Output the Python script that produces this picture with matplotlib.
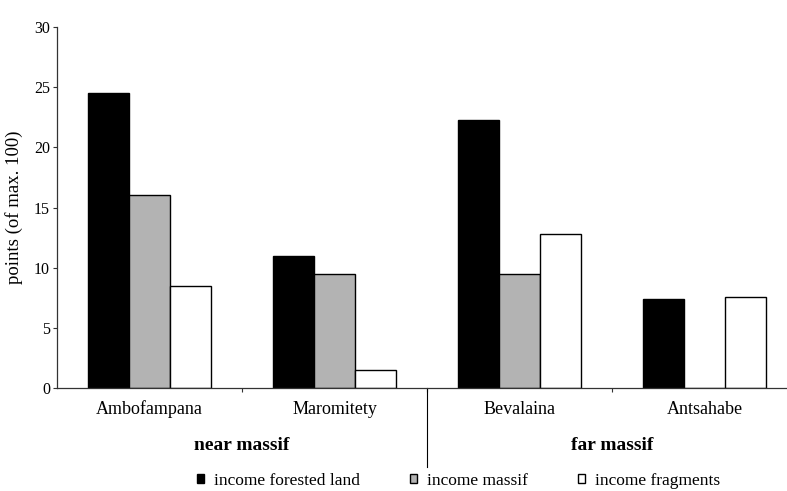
import numpy as np
import matplotlib
matplotlib.use("Agg")
import matplotlib.pyplot as plt
import matplotlib.transforms as mtransforms

plt.rcParams["font.family"] = ["Liberation Serif", "DejaVu Serif"]

# data
villages = ["Ambofampana", "Maromitety", "Bevalaina", "Antsahabe"]
groups = ["near massif", "far massif"]
series = ["income forested land", "income massif", "income fragments"]
forested = [24.5, 11.0, 22.3, 7.4]
massif = [16.0, 9.5, 9.5, 0.0]
fragments = [8.5, 1.5, 12.8, 7.6]
yticks = [0, 5, 10, 15, 20, 25, 30]

W, H = 787, 491
fig = plt.figure(figsize=(W / 100, H / 100), dpi=100)
ax = fig.add_axes([57 / W, 103 / H, 740 / W, 361 / H])

x = np.arange(len(villages))
bw = 0.223
colors = ["#000000", "#b3b3b3", "#ffffff"]
bars = []
for i, (vals, col, lab) in enumerate(zip([forested, massif, fragments], colors, series)):
    b = ax.bar(x + (i - 1) * bw, vals, bw, color=col, edgecolor="black", linewidth=1.0,
               label=lab, zorder=2)
    bars.append(b)

ax.set_xlim(-0.5, 3.5)
ax.set_ylim(0, 30)
ax.set_yticks(yticks)
ax.tick_params(axis="y", direction="out", length=3, width=0.8, pad=2, labelsize=11.5, colors="#333333",
               labelcolor="black")
ax.set_xticks([0.5, 1.5, 2.5])
ax.set_xticklabels([])
ax.tick_params(axis="x", direction="out", length=3, width=0.8, colors="#333333")
ax.set_xticks(x, minor=True)
ax.set_xticklabels(villages, minor=True, fontsize=13)
ax.tick_params(axis="x", which="minor", length=0, pad=9)
for s in ["top", "right"]:
    ax.spines[s].set_visible(False)
for s in ["left", "bottom"]:
    ax.spines[s].set_color("#333333")
    ax.spines[s].set_linewidth(0.9)
    ax.spines[s].set_zorder(3)

ax.set_ylabel("points (of max. 100)", fontsize=13.5, labelpad=8)

# group divider and group labels
ax.axvline(1.5, ymin=-0.22, ymax=0, color="black", lw=0.8, clip_on=False)
trans = mtransforms.blended_transform_factory(ax.transData, ax.transAxes)
for gx, g in zip([0.5, 2.5], groups):
    ax.text(gx, -0.158, g, transform=trans, ha="center", va="center",
            fontsize=14, fontweight="bold")

fig.legend(handles=bars, labels=series, loc="center left", bbox_to_anchor=(197 / W, 1 - 481 / H),
           ncol=3, frameon=False, fontsize=12.5, handlelength=0.4, handleheight=0.4,
           handletextpad=0.6, columnspacing=2.85, borderpad=0, borderaxespad=0)

fig.savefig("out.png", dpi=100)
